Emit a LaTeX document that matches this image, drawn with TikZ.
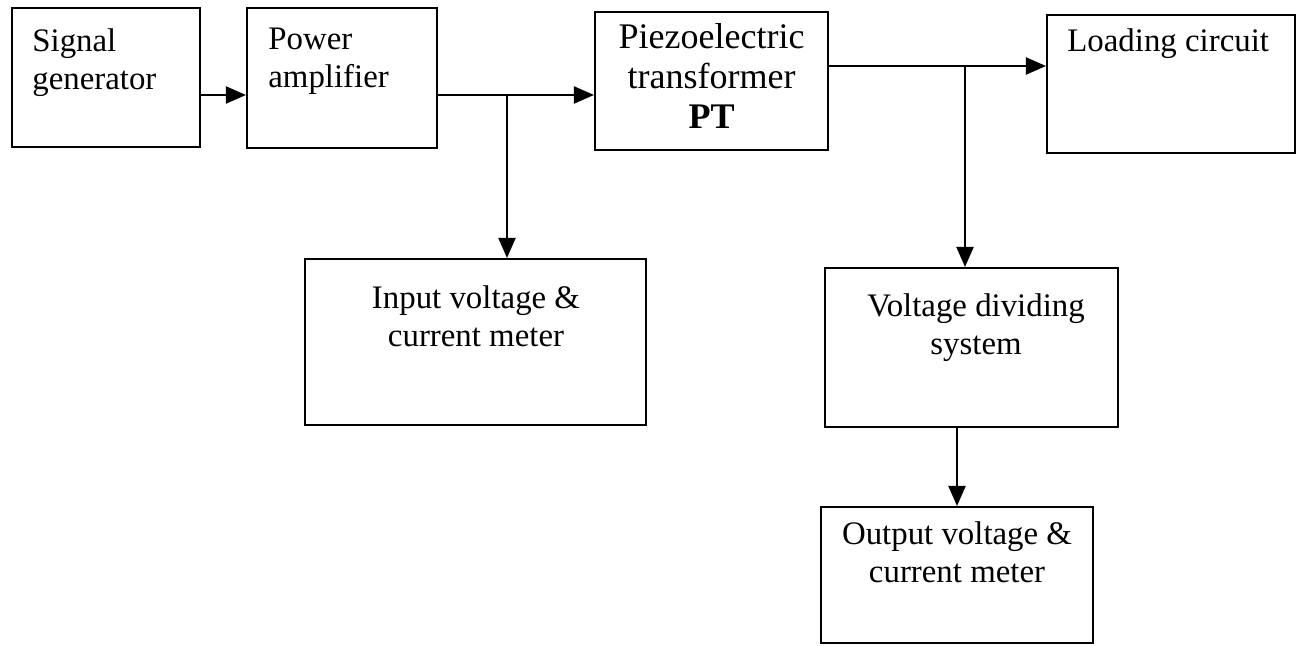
\documentclass[tikz,border=0pt]{standalone}
\usepackage{fontspec}
\setmainfont{Liberation Serif}
\usepackage{tikz}
\usetikzlibrary{arrows.meta, positioning, calc}

\begin{document}
\begin{tikzpicture}[x=0.02cm, y=-0.02cm,
  blk/.style={draw, rectangle, line width=1.2pt, inner sep=0pt},
  txt/.style={inner sep=0pt, font=\fontsize{18.7}{21.6}\selectfont},
  arr/.style={-{Triangle[length=0.4cm, width=0.34cm]}, line width=1.2pt}]
\useasboundingbox (0,0) rectangle (1300,645);

% Blocks (empty boxes, text placed separately)
\node[blk, minimum width=3.76cm, minimum height=2.78cm] (sg) at (106,77.5) {};
\node[blk, minimum width=3.8cm, minimum height=2.8cm] (pa) at (342,78) {};
\node[blk, minimum width=4.66cm, minimum height=2.76cm] (pt) at (711.5,81) {};
\node[blk, minimum width=4.96cm, minimum height=2.76cm] (lc) at (1171,84) {};
\node[blk, minimum width=6.82cm, minimum height=3.32cm] (in) at (475.5,342) {};
\node[blk, minimum width=5.86cm, minimum height=3.18cm] (vds) at (971.5,347.5) {};
\node[blk, minimum width=5.44cm, minimum height=2.72cm] (out) at (957,575) {};

% Labels
\node[txt, align=left, anchor=north west] (sgtxt) at (32,28) {Signal\\generator};
\node[txt, align=left, anchor=north west] (patxt) at (268,28) {Power\\amplifier};
\node[txt, align=center, anchor=north, font=\fontsize{20.5}{22.8}\selectfont] (pttxt) at (711.5,23) {Piezoelectric\\transformer\\\textbf{PT}};
\node[txt, align=left, anchor=north west] (lctxt) at (1067,28) {Loading circuit};
\node[txt, align=center, anchor=north] (intxt) at (476,285) {Input voltage \&\\current meter};
\node[txt, align=center, anchor=north] (vdstxt) at (976,293) {Voltage dividing\\system};
\node[txt, align=center, anchor=north] (outtxt) at (957,521) {Output voltage \&\\current meter};

% Junctions
\coordinate (j1) at (507,95);
\coordinate (j2) at (965,66);

% Connections
\draw[arr] (sg.east |- j1) -- (pa.west |- j1);
\draw[arr] (pa.east |- j1) -- (pt.west |- j1);
\draw[arr] (j1) -- (j1 |- in.north);
\draw[arr] (pt.east |- j2) -- (lc.west |- j2);
\draw[arr] (j2) -- (j2 |- vds.north);
\draw[arr] (out.north |- vds.south) -- (out.north);
\end{tikzpicture}
\end{document}
